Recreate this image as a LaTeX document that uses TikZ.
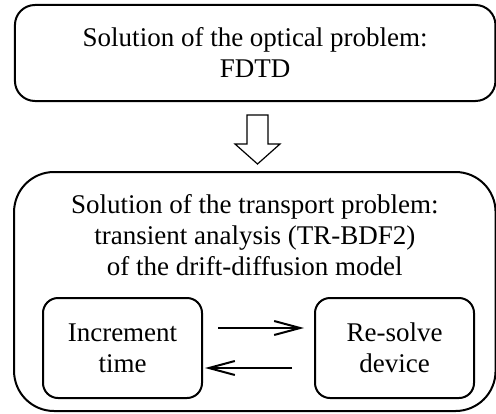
\documentclass[tikz,border=0pt]{standalone}
\usepackage{fontspec}
\setmainfont{Liberation Serif}
\usepackage{tikz}
\usetikzlibrary{arrows.meta}
\usetikzlibrary{positioning}

\begin{document}
\begin{tikzpicture}[
			x=1pt, y=1pt,
			every node/.style={font=\fontsize{13.5}{15.5}\selectfont, align=center, inner sep=0pt},
			bigbox/.style={draw, line width=1pt, rounded corners=10pt},
			smallbox/.style={draw, line width=1pt, rounded corners=7.5pt, minimum width=79.5pt, minimum height=50pt},
			loop/.style={line width=1pt, -{Straight Barb[length=13pt, width=7pt]}}
		]
		\useasboundingbox (0,0) rectangle (248,206.5);
		\node[bigbox, minimum width=240.25pt, minimum height=48pt] (optical) at (127.6,180) {Solution of the optical problem:\\FDTD};
		\node[bigbox, rounded corners=20pt, minimum width=240.75pt, minimum height=119.5pt] (transport) at (127.4,60.75) {};
		\node[below=11.5pt of transport.north] (transporttitle) {Solution of the transport problem:\\transient analysis (TR-BDF2)\\of the drift-diffusion model};
		\node[smallbox] (increment) at (61.25,32.5) {Increment\\time};
		\node[smallbox, right=55.5pt of increment] (resolve) {Re-solve\\device};
		% hollow arrow between the two problems
		\coordinate (flowtop) at ([xshift=1.15pt, yshift=-6.5pt]optical.south);
		\draw[line width=0.6pt] (flowtop) ++(-5.25,0) -- ++(10.5,0) -- ++(0,-14.5) -- ++(6,0)
			-- ++(-11.25,-10) -- ++(-11.25,10) -- ++(6,0) -- cycle;
		\draw[loop] ([xshift=7.5pt, yshift=10pt]increment.east) -- ([xshift=-5pt, yshift=10pt]resolve.west);
		\draw[loop] ([xshift=-11pt, yshift=-10pt]resolve.west) -- ([xshift=1pt, yshift=-10pt]increment.east);
	\end{tikzpicture}
\end{document}
